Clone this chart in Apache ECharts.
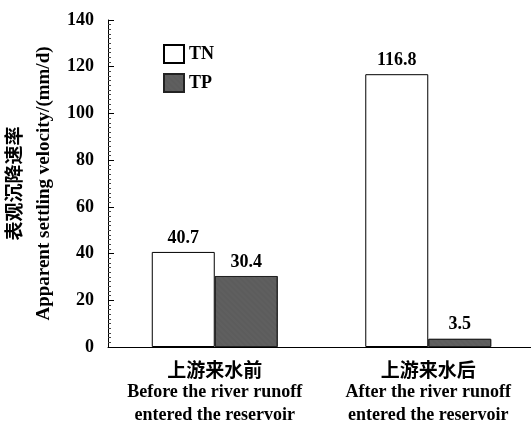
<!DOCTYPE html>
<html><head><meta charset="utf-8">
<script src="https://cdn.jsdelivr.net/npm/echarts@6/dist/echarts.min.js"></script>
<style>html,body{margin:0;padding:0;background:#fff}#c{width:531px;height:429px}</style>
</head><body><div id="c"></div>
<script>
const categories = ['上游来水前\nBefore the river runoff\nentered the reservoir', '上游来水后\nAfter the river runoff\nentered the reservoir'];
const seriesNames = ['TN', 'TP'];
const tnValues = [40.7, 116.8];
const tpValues = [30.4, 3.5];
const yTicks = [0, 20, 40, 60, 80, 100, 120, 140];

const serif = '"Liberation Serif", "Times New Roman", serif';
const cjk = '"Noto Sans CJK SC", sans-serif';
const chart = echarts.init(document.getElementById('c'));
chart.setOption({
  backgroundColor: '#fff',
  animation: false,
  grid: { left: 108, right: -4, top: 20, bottom: 82, containLabel: false, outerBoundsMode: 'none' },
  legend: {
    orient: 'vertical', left: 158, top: 39, itemWidth: 20, itemHeight: 18, itemGap: 9,
    icon: 'rect',
    textStyle: { fontFamily: serif, fontWeight: 'bold', fontSize: 18, color: '#000' },
    data: seriesNames
  },
  xAxis: {
    type: 'category', data: categories,
    axisLine: { lineStyle: { color: '#000', width: 1 } },
    axisTick: { inside: true, length: 10, lineStyle: { color: '#000' } },
    axisLabel: {
      color: '#000', margin: 11, lineHeight: 23,
      formatter: function (v) { const p = v.split('\n'); return '{c|' + p[0] + '}\n{e|' + p[1] + '}\n{e|' + p[2] + '}'; },
      rich: {
        c: { fontFamily: cjk, fontWeight: 'bold', fontSize: 19, lineHeight: 23, color: '#000' },
        e: { fontFamily: serif, fontWeight: 'bold', fontSize: 18, lineHeight: 23, color: '#000' }
      }
    }
  },
  yAxis: {
    type: 'value', min: yTicks[0], max: yTicks[yTicks.length - 1], interval: 20,
    name: '{c|表观沉降速率}\n{e|Apparent settling velocity/(mm/d)}',
    nameLocation: 'middle', nameRotate: 90, nameGap: 49,
    nameTextStyle: {
      rich: {
        c: { fontFamily: cjk, fontWeight: 'bold', fontSize: 19, lineHeight: 30, color: '#000' },
        e: { fontFamily: serif, fontWeight: 'bold', fontSize: 19, lineHeight: 30, color: '#000' }
      }
    },
    axisLine: { show: true, lineStyle: { color: '#000', width: 1 } },
    axisTick: { show: true, inside: true, length: 6, lineStyle: { color: '#000' } },
    minorTick: { show: true, splitNumber: 10, length: 3, lineStyle: { color: '#444' } },
    splitLine: { show: false },
    axisLabel: { color: '#000', fontFamily: serif, fontWeight: 'bold', fontSize: 18, margin: 14 }
  },
  series: [
    {
      name: seriesNames[0], type: 'bar', data: tnValues, barGap: '0%', barCategoryGap: '41%',
      itemStyle: { color: '#fff', borderColor: '#000', borderWidth: 1 },
      label: { show: true, position: 'top', distance: 5, color: '#000', fontFamily: serif, fontWeight: 'bold', fontSize: 18 }
    },
    {
      name: seriesNames[1], type: 'bar', data: tpValues,
      itemStyle: { color: '#5c5c5c', borderColor: '#222', borderWidth: 1,
        decal: { symbol: 'rect', symbolSize: 0.35, color: 'rgba(150,150,150,0.6)', dashArrayX: [1, 0], dashArrayY: [2, 2], rotation: 0.785 } },
      label: { show: true, position: 'top', distance: 5, color: '#000', fontFamily: serif, fontWeight: 'bold', fontSize: 18 }
    }
  ]
});
</script></body></html>
